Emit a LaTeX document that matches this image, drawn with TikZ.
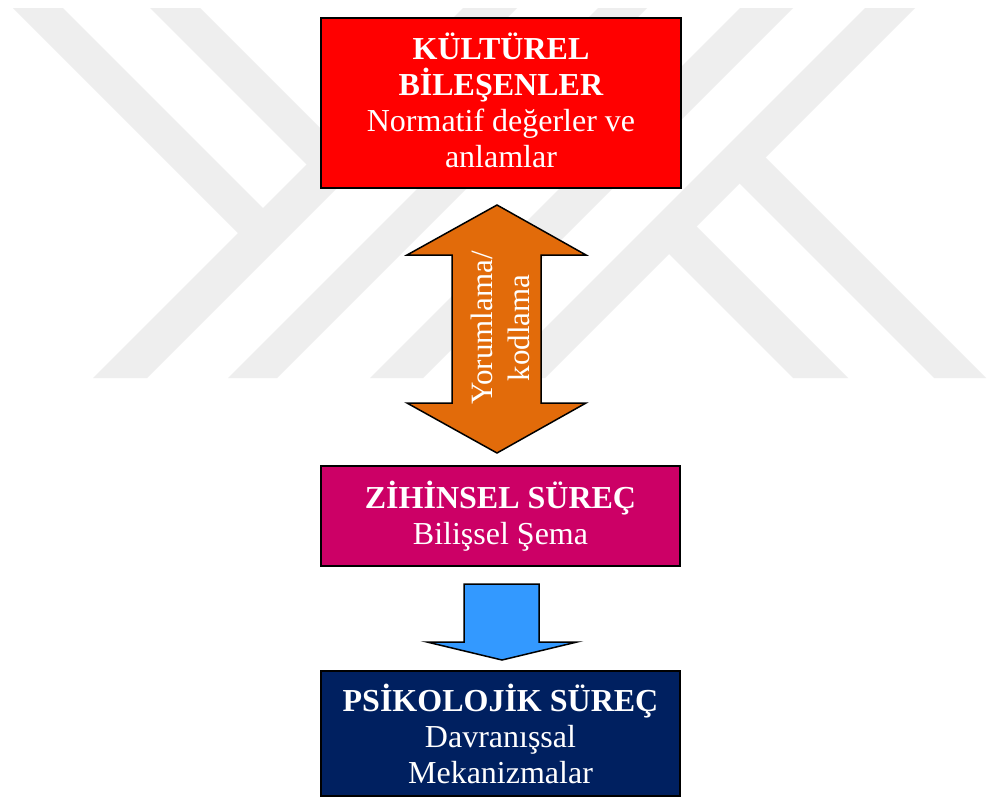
\documentclass[tikz,border=0pt]{standalone}
\usepackage{fontspec}
\setmainfont{Liberation Serif}
\definecolor{kred}{HTML}{FF0000}
\definecolor{korange}{HTML}{E26B0A}
\definecolor{kmag}{HTML}{CC0066}
\definecolor{knavy}{HTML}{002060}
\definecolor{kblue}{HTML}{3399FF}
\definecolor{wm}{HTML}{EEEEEE}
\tikzset{
  box/.style={draw=black, line width=2pt, text=white, align=center, inner sep=0pt,
    font=\fontsize{32}{36}\selectfont},
  blockarrow/.style={draw=black, line width=1.5pt, line join=miter},
  wmband/.style={fill=wm, draw=none},
  arrowtext/.style={rotate=90, text=white, align=center, inner sep=0pt,
    font=\fontsize{31}{37}\selectfont}
}
\begin{document}
\begin{tikzpicture}[x=1pt,y=-1pt]
\fill[white] (0,0) rectangle (987,798);
\useasboundingbox (0,0) rectangle (987,798);
% watermark: "/" bands
\fill[wmband] (463,8) -- (517,8) -- (147,378) -- (93,378) -- cycle;
\fill[wmband] (598,8) -- (647,8) -- (277,378) -- (228,378) -- cycle;
\fill[wmband] (740,8) -- (793,8) -- (423,378) -- (370,378) -- cycle;
\fill[wmband] (865,8) -- (915,8) -- (545,378) -- (495,378) -- cycle;
% watermark: "\" bands
\fill[wmband] (13,8) -- (63,8) -- (276.5,221.5) -- (251.5,246.5) -- cycle;
\fill[wmband] (150,8) -- (200,8) -- (345,153) -- (320,178) -- cycle;
\fill[wmband] (656.5,241.5) -- (684,214) -- (848,378) -- (793,378) -- cycle;
\fill[wmband] (727,171) -- (753,145) -- (986,378) -- (934,378) -- cycle;
% boxes
\node[box, fill=kred, minimum width=360pt, minimum height=170pt] (kultur) at (501,103)
  {\textbf{KÜLTÜREL}\\\textbf{BİLEŞENLER}\\Normatif değerler ve\\anlamlar\rule[-5pt]{0pt}{5pt}};
\node[box, fill=kmag, minimum width=359pt, minimum height=100pt] (zihin) at (500.5,516)
  {\textbf{ZİHİNSEL SÜREÇ}\\Bilişsel Şema};
\node[box, fill=knavy, minimum width=359pt, minimum height=125pt] (psiko) at (500.5,733.5)
  {\textbf{PSİKOLOJİK SÜREÇ}\\Davranışsal\\Mekanizmalar};
% double arrow between kultur and zihin
\draw[blockarrow, fill=korange] (497,205) -- (586,255) -- (541,255) -- (541,403) -- (586,403)
  -- (497,453) -- (407,403) -- (452,403) -- (452,255) -- (407,255) -- cycle;
\node[arrowtext] (yorum) at (500,328) {Yorumlama/\\kodlama};
% single arrow between zihin and psiko
\draw[blockarrow, fill=kblue] (464,584) -- (539,584) -- (539,642) -- (577,642) -- (502,660)
  -- (427,642) -- (464,642) -- cycle;
\end{tikzpicture}
\end{document}
